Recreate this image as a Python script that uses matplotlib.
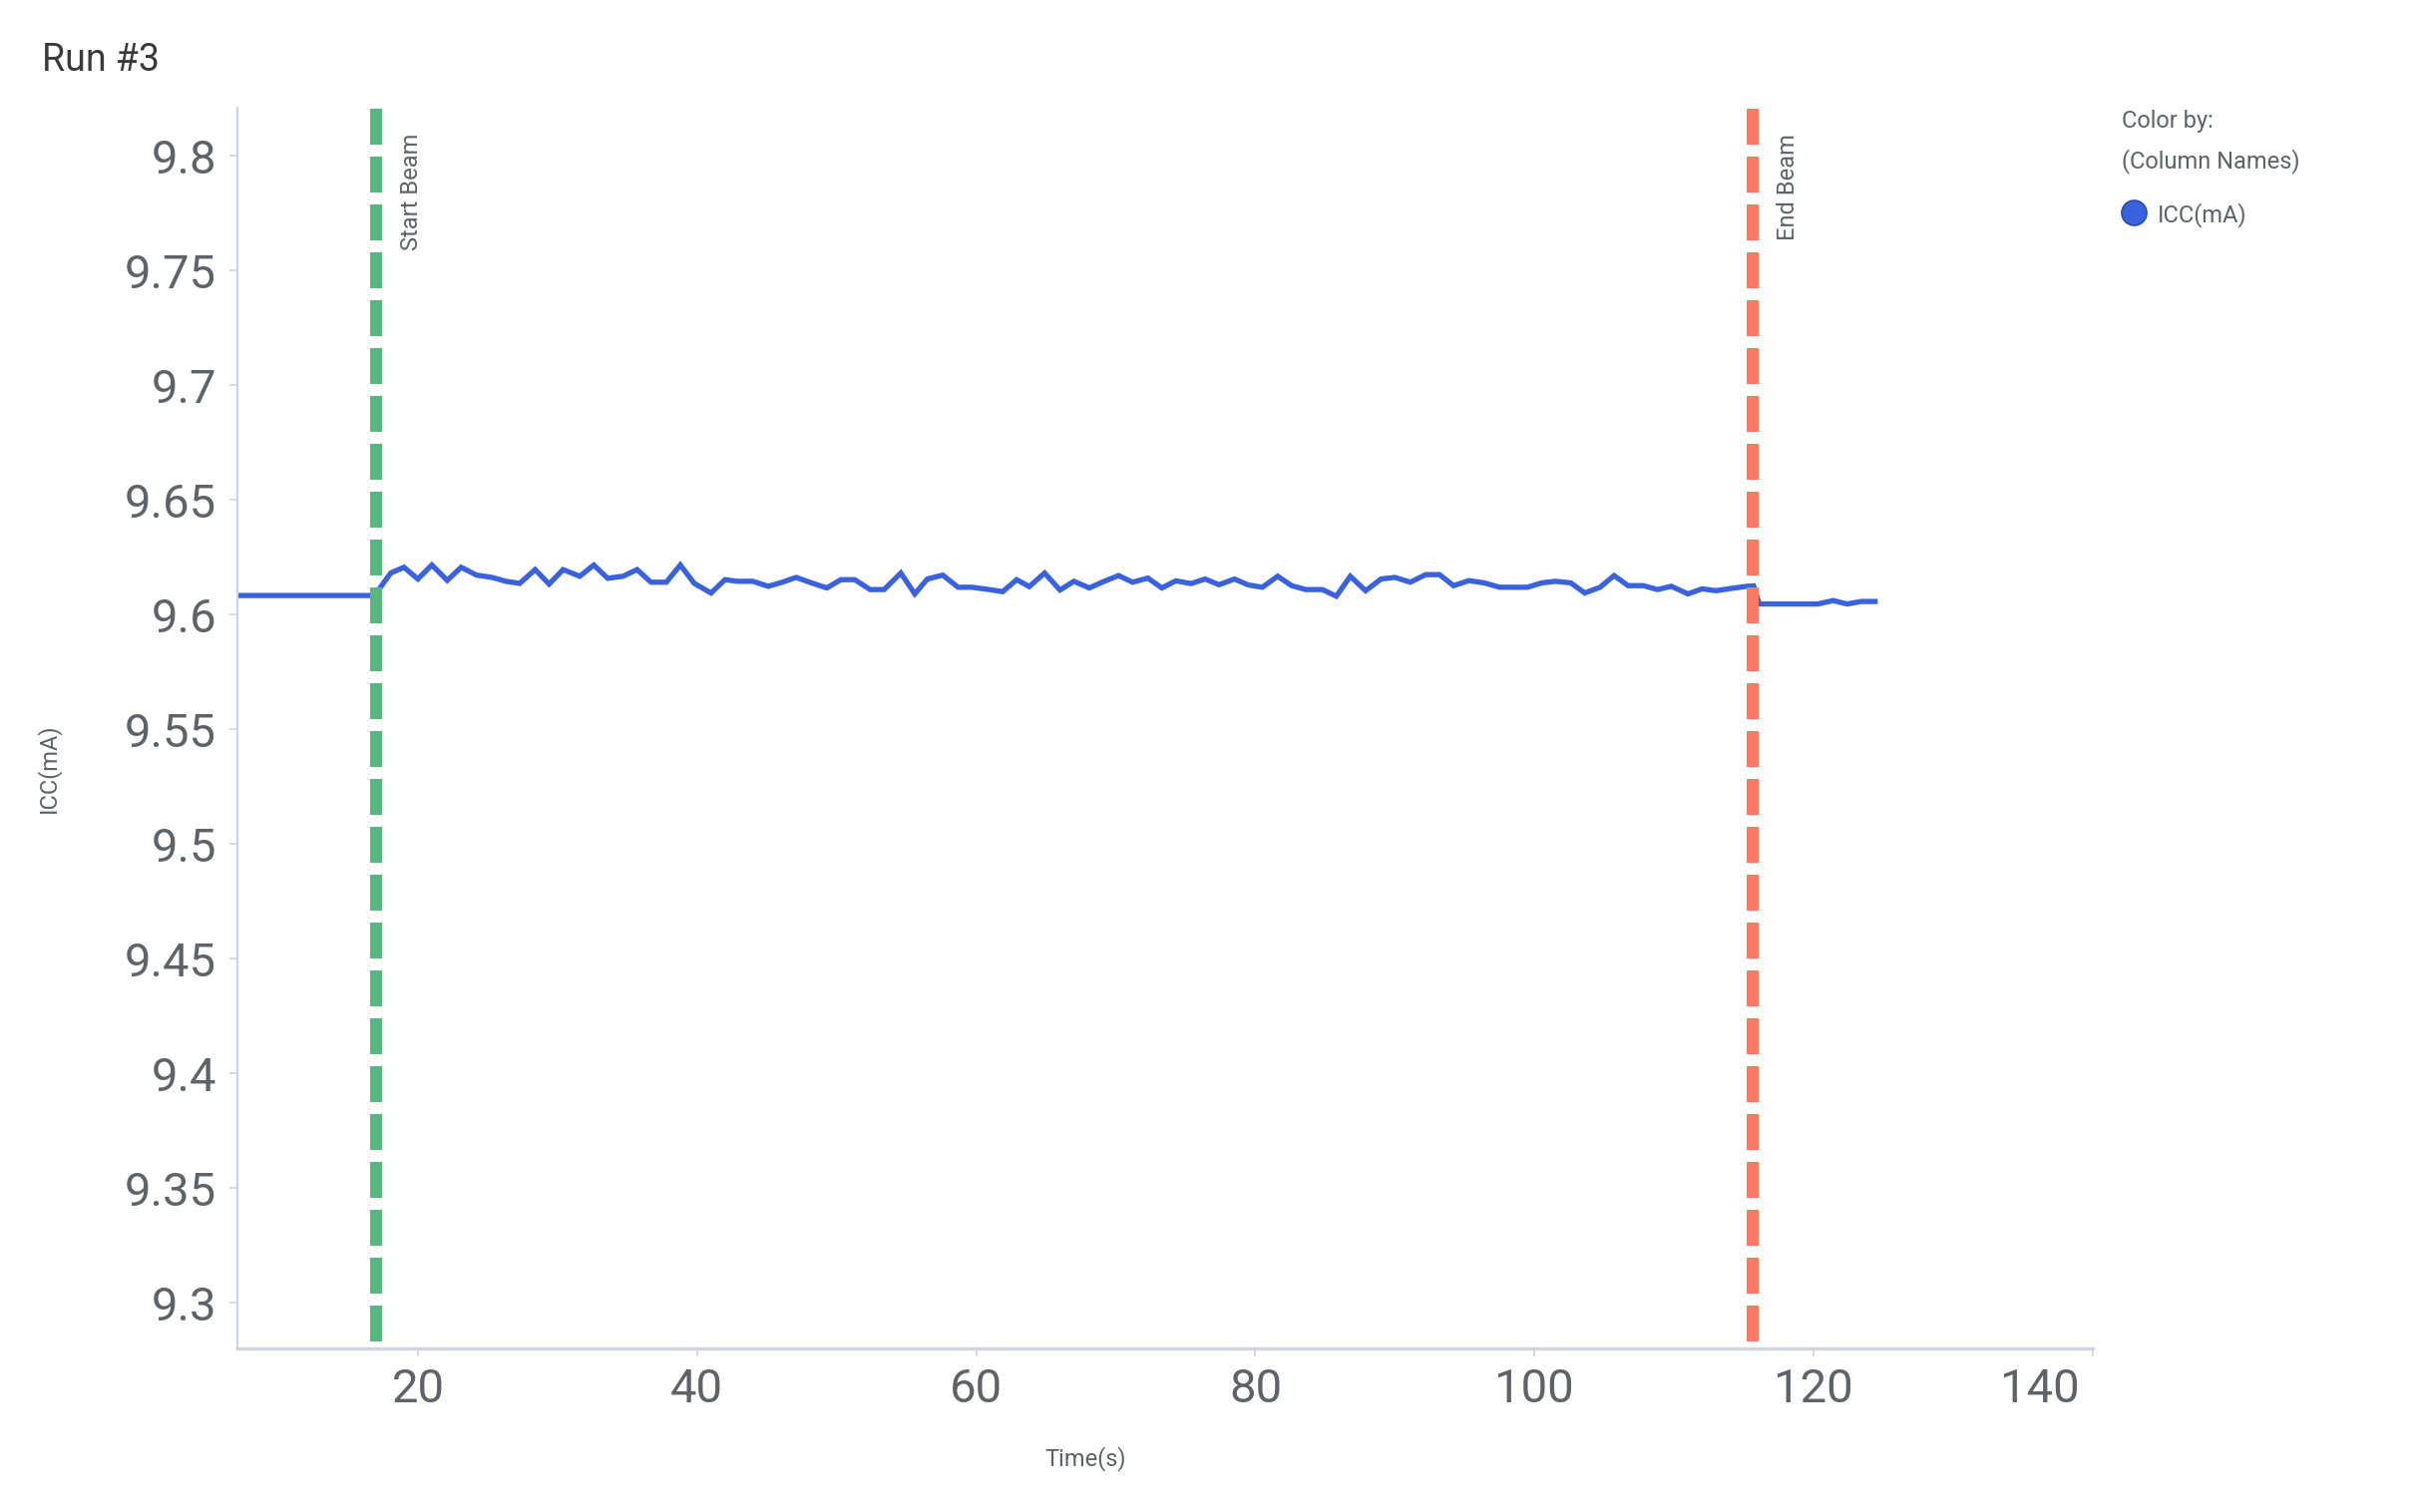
import matplotlib
matplotlib.use("Agg")
import matplotlib.pyplot as plt
from matplotlib.lines import Line2D
from matplotlib.ticker import FuncFormatter
from matplotlib.transforms import ScaledTranslation

plt.rcParams['font.family'] = ['Roboto', 'DejaVu Sans']

# ICC current readings over time
time_s = [7.1, 8.1, 9.2, 10.2, 11.2, 12.3, 13.3, 14.4, 15.4, 16.4, 16.9,
          18.05, 19.0, 20.0, 21.0, 22.1, 23.1, 24.2, 25.3, 26.3, 27.3,
          28.4, 29.4, 30.4, 31.6, 32.6, 33.6, 34.7, 35.7, 36.7, 37.8,
          38.8, 39.8, 41.0, 42.0, 42.9, 44.0, 45.1, 46.1, 47.1, 48.2,
          49.3, 50.3, 51.3, 52.4, 53.4, 54.6, 55.6, 56.5, 57.6, 58.7,
          59.7, 60.8, 61.9, 62.9, 63.8, 64.9, 66.0, 67.0, 68.1, 69.1,
          70.2, 71.2, 72.3, 73.3, 74.3, 75.4, 76.4, 77.4, 78.5, 79.5,
          80.5, 81.6, 82.6, 83.6, 84.8, 85.8, 86.8, 87.9, 89.0, 90.0,
          91.1, 92.2, 93.2, 94.2, 95.3, 96.4, 97.5, 98.5, 99.5, 100.5,
          101.5, 102.6, 103.6, 104.7, 105.7, 106.7, 107.8, 108.8, 109.8, 111.0,
          112.0, 113.0, 114.1, 115.2, 115.7, 116.1, 117.2, 118.2, 119.2, 120.3,
          121.4, 122.4, 123.4, 124.4]
icc_ma = [9.6083, 9.6083, 9.6083, 9.6083, 9.6083, 9.6083, 9.6083, 9.6083, 9.6083, 9.6083, 9.6083,
          9.6181, 9.6206, 9.6155, 9.6216, 9.6149, 9.6206, 9.6172, 9.6162, 9.6145, 9.6136,
          9.6196, 9.6133, 9.6196, 9.6167, 9.6216, 9.6158, 9.6167, 9.6196, 9.6141, 9.6141,
          9.6216, 9.6136, 9.6094, 9.6152, 9.6145, 9.6145, 9.6123, 9.6141, 9.6162, 9.6138,
          9.6116, 9.6152, 9.6152, 9.6109, 9.6109, 9.6181, 9.6090, 9.6155, 9.6172, 9.6119,
          9.6119, 9.6110, 9.6100, 9.6152, 9.6122, 9.6181, 9.6107, 9.6145, 9.6116, 9.6143,
          9.6170, 9.6141, 9.6159, 9.6116, 9.6147, 9.6135, 9.6155, 9.6130, 9.6155, 9.6129,
          9.6119, 9.6167, 9.6126, 9.6109, 9.6109, 9.6080, 9.6167, 9.6104, 9.6155, 9.6162,
          9.6141, 9.6174, 9.6174, 9.6126, 9.6148, 9.6138, 9.6119, 9.6119, 9.6119, 9.6138,
          9.6145, 9.6138, 9.6094, 9.6119, 9.6170, 9.6126, 9.6126, 9.6109, 9.6123, 9.6090,
          9.6112, 9.6104, 9.6114, 9.6123, 9.6125, 9.6046, 9.6046, 9.6046, 9.6046, 9.6046,
          9.6061, 9.6046, 9.6057, 9.6057]

beam_times = [17.0, 115.6]
beam_labels = ['Start Beam', 'End Beam']
beam_colors = ['#58b67f', '#fc7a64']

x_ticks = [20, 40, 60, 80, 100, 120, 140]
y_ticks = [9.3, 9.35, 9.4, 9.45, 9.5, 9.55, 9.6, 9.65, 9.7, 9.75, 9.8]

W, H = 2430, 1516
fig = plt.figure(figsize=(W / 100, H / 100), dpi=100)
ax = fig.add_axes([238 / W, 1 - 1352 / H, (2098 - 238) / W, (1352 - 108) / H])

label_col = '#5f6368'
axis_col = '#d0d3de'

ax.plot(time_s, icc_ma, color='#3a62dd', lw=3.8, solid_joinstyle='miter', zorder=2)

trans = ax.get_xaxis_transform()
for bt, lab, col in zip(beam_times, beam_labels, beam_colors):
    ln, = ax.plot([bt, bt], [0.9992, 0], transform=trans, color=col, lw=8.64,
                  solid_capstyle='butt', dash_capstyle='butt', zorder=3)
    ln.set_dashes((3.0, 1.0))
    ax.text(bt + 1.75, 0.979, lab, transform=trans, rotation=90, ha='left', va='top',
            fontsize=17, color=label_col)

ax.set_xlim(7.07, 140)
ax.set_ylim(9.280, 9.821)
ax.set_xticks(x_ticks)
ax.set_yticks(y_ticks)
ax.yaxis.set_major_formatter(FuncFormatter(lambda v, p: '{:g}'.format(round(v, 2))))

for s in ['top', 'right']:
    ax.spines[s].set_visible(False)
ax.spines['left'].set_color(axis_col)
ax.spines['left'].set_linewidth(1.6)
ax.spines['bottom'].set_color(axis_col)
ax.spines['bottom'].set_linewidth(2.4)
ax.tick_params(axis='both', colors=axis_col, labelcolor=label_col, labelsize=34,
               length=6, width=1.2)
ax.tick_params(axis='y', pad=9)
ax.tick_params(axis='x', pad=8)

# last x label sits inside the axis end
last = ax.xaxis.get_major_ticks()[-1].label1
last.set_horizontalalignment('right')
last.set_transform(last.get_transform() + ScaledTranslation(-0.13, 0, fig.dpi_scale_trans))

fig.text(42 / W, 1 - 71 / H, 'Run #3', fontsize=27, color='#3a3a3a',
         fontweight='normal', va='baseline', ha='left')
fig.text(1088 / W, 1 - 1463 / H, 'Time(s)', fontsize=17, color=label_col,
         ha='center', va='center')
fig.text(48 / W, 1 - 770 / H, 'ICC(mA)', fontsize=17, color=label_col,
         ha='center', va='center', rotation=90)

# legend
fig.text(2127 / W, 1 - 128 / H, 'Color by:', fontsize=17, color=label_col, va='baseline')
fig.text(2127 / W, 1 - 168 / H, '(Column Names)', fontsize=17, color=label_col, va='baseline')
fig.add_artist(Line2D([2139 / W], [1 - 213 / H], marker='o', markersize=18,
                      markerfacecolor='#3a62dd', markeredgecolor='#2a4aad',
                      markeredgewidth=1.2, transform=fig.transFigure))
fig.text(2163 / W, 1 - 222 / H, 'ICC(mA)', fontsize=17, color=label_col, va='baseline')

fig.savefig('out.png', dpi=100)
